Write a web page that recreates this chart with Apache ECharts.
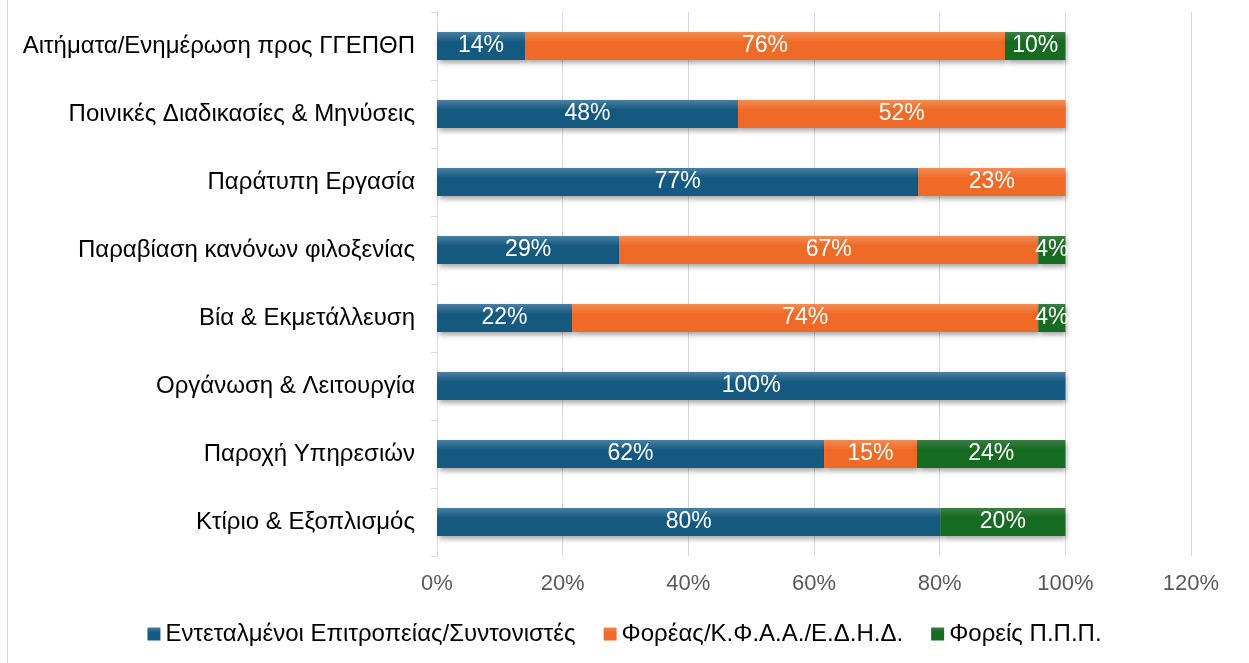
<!DOCTYPE html>
<html>
<head>
<meta charset="utf-8">
<script src="https://cdn.jsdelivr.net/npm/echarts@6/dist/echarts.min.js"></script>
<style>
  html, body { margin: 0; padding: 0; background: #fff; }
  #chart { width: 1249px; height: 663px; }
  .frame { position: absolute; left: 7px; top: 0; width: 1px; height: 663px; background: #d9d9d9; }
</style>
</head>
<body>
<div class="frame"></div>
<div id="chart"></div>
<script>
// categories top to bottom
var categories = [
  'Αιτήματα/Ενημέρωση προς ΓΓΕΠΘΠ',
  'Ποινικές Διαδικασίες & Μηνύσεις',
  'Παράτυπη Εργασία',
  'Παραβίαση κανόνων φιλοξενίας',
  'Βία & Εκμετάλλευση',
  'Οργάνωση & Λειτουργία',
  'Παροχή Υπηρεσιών',
  'Κτίριο & Εξοπλισμός'
];
var seriesNames = ['Εντεταλμένοι Επιτροπείας/Συντονιστές', 'Φορέας/Κ.Φ.Α.Α./Ε.Δ.Η.Δ.', 'Φορείς Π.Π.Π.'];
var delegates = [14.0, 47.9, 76.6, 29.0, 21.5, 100, 61.6, 80.1];
var agencies  = [76.4, 52.1, 23.4, 66.7, 74.2, 0, 14.8, 0];
var ppp       = [9.6, 0, 0, 4.3, 4.3, 0, 23.6, 19.9];

var chart = echarts.init(document.getElementById('chart'));

function grad(top, bottom) {
  return new echarts.graphic.LinearGradient(0, 0, 0, 1, [
    { offset: 0, color: top }, { offset: 0.35, color: bottom }, { offset: 1, color: bottom }
  ]);
}

function makeSeries(name, data, c1, c2) {
  return {
    name: name,
    type: 'bar',
    stack: 'all',
    barWidth: 28,
    data: data,
    itemStyle: {
      color: grad(c1, c2),
      shadowColor: 'rgba(0,0,0,0.35)',
      shadowBlur: 5,
      shadowOffsetX: 2,
      shadowOffsetY: 3
    },
    label: {
      show: true,
      position: 'inside',
      color: '#fff',
      fontSize: 23,
      fontFamily: 'Liberation Sans',
      formatter: function (p) { return p.value > 0 ? Math.round(p.value) + '%' : ''; }
    }
  };
}

chart.setOption({
  animation: false,
  textStyle: { fontFamily: 'Liberation Sans' },
  grid: { left: 437, right: 58, top: 12, bottom: 107, containLabel: false },
  legend: {
    bottom: 12,
    left: 'center',
    itemWidth: 13,
    itemHeight: 13,
    itemGap: 28,
    icon: 'rect',
    textStyle: { fontSize: 24, color: '#000', fontFamily: 'Liberation Sans' },
    data: seriesNames
  },
  xAxis: {
    type: 'value',
    min: 0,
    max: 120,
    interval: 20,
    axisLine: { show: false },
    axisTick: { show: false },
    splitLine: { lineStyle: { color: '#d9d9d9', width: 1 } },
    axisLabel: { formatter: '{value}%', fontSize: 22, color: '#595959', margin: 17 }
  },
  yAxis: {
    type: 'category',
    inverse: true,
    data: categories,
    axisLine: { lineStyle: { color: '#d9d9d9' } },
    axisTick: { show: true, length: 6, lineStyle: { color: '#d9d9d9' } },
    axisLabel: { fontSize: 24, color: '#000', margin: 22 }
  },
  series: [
    makeSeries(seriesNames[0], delegates, '#4a7fa3', '#145a80'),
    makeSeries(seriesNames[1], agencies, '#f28c55', '#ee6a26'),
    makeSeries(seriesNames[2], ppp, '#3c7d45', '#156b1f')
  ]
});
</script>
</body>
</html>
